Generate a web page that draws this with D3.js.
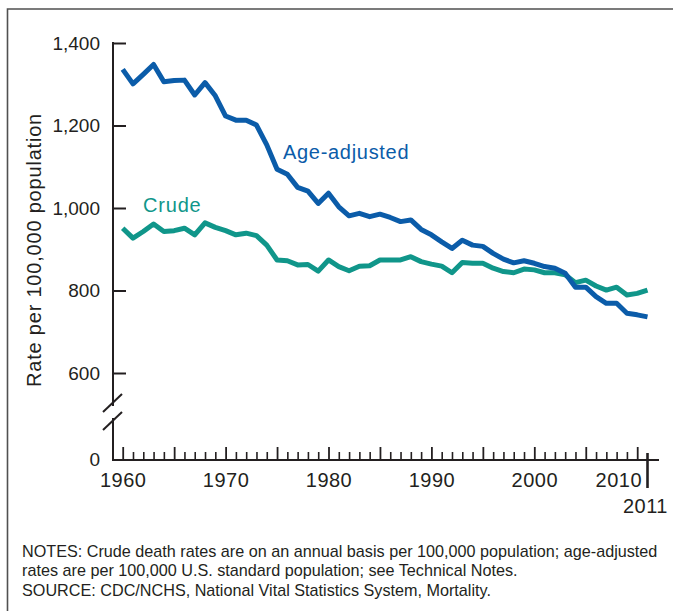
<!DOCTYPE html>
<html>
<head>
<meta charset="utf-8">
<script src="https://cdn.jsdelivr.net/npm/d3@7"></script>
<style>
  body { margin: 0; background: #fff; }
  svg { display: block; font-family: "Liberation Sans", Arial, sans-serif; }
</style>
</head>
<body>
<div id="chart"></div>
<script>
// Data (deaths per 100,000 population)
const years = d3.range(1960, 2012);
const ageAdjusted = [1336, 1301, 1324, 1348, 1306, 1309, 1310, 1274, 1304, 1272,
  1223, 1213, 1213, 1201, 1153, 1094, 1082, 1050, 1041, 1011,
  1036, 1003, 981, 987, 979, 985, 977, 967, 971, 948,
  935, 918, 902, 922, 910, 907, 890, 876, 867, 872,
  866, 858, 854, 842, 808, 808, 785, 769, 769, 745,
  741, 736];
const crude = [951, 927, 943, 961, 943, 945, 951, 935, 964, 953,
  945, 935, 939, 933, 910, 874, 872, 862, 863, 847,
  874, 858, 848, 859, 860, 874, 874, 874, 882, 870,
  864, 859, 843, 868, 866, 866, 854, 846, 843, 852,
  850, 843, 843, 838, 819, 825, 811, 801, 808, 789,
  793, 801];
const yTicks = [600, 800, 1000, 1200, 1400];
const notes = [
  "NOTES: Crude death rates are on an annual basis per 100,000 population; age-adjusted",
  "rates are per 100,000 U.S. standard population; see Technical Notes.",
  "SOURCE: CDC/NCHS, National Vital Statistics System, Mortality."
];

const width = 673, height = 611;
const axisX = 113, baseY = 460;   // y axis position and the zero line
const ink = "#231f20";
const blue = "#0b5ca9", teal = "#10968a";

const svg = d3.select("#chart").append("svg")
  .attr("width", width)
  .attr("height", height);

// frame (only top and left edges show)
svg.append("path")
  .attr("d", `M7.5,${height}V9H${width}`)
  .attr("fill", "none")
  .attr("stroke", "#505050")
  .attr("stroke-width", 1.6);

// Scales
const x = d3.scaleLinear().domain([1960, 2011]).range([122.7, 647.5]);
const y = d3.scaleLinear().domain([600, 1400]).range([373, 43]);

// Y axis: ticks pointing inward, labels on the left
const yAxis = svg.append("g")
  .attr("transform", `translate(${axisX},0)`)
  .call(d3.axisLeft(y).tickValues(yTicks).tickSizeInner(-13).tickSizeOuter(0)
    .tickPadding(13).tickFormat(d3.format(",")));
yAxis.select(".domain").remove();
yAxis.selectAll("line").attr("stroke", ink).attr("stroke-width", 2);
yAxis.selectAll("text").attr("font-size", 19).attr("fill", ink).attr("font-family", null);

// zero tick label
svg.append("text")
  .attr("x", axisX - 13)
  .attr("y", baseY)
  .attr("dy", "0.32em")
  .attr("text-anchor", "end")
  .attr("font-size", 19)
  .attr("fill", ink)
  .text("0");

// y axis line with break
const breakTop = 406, breakBot = 418;
svg.append("path")
  .attr("d", `M${axisX},${y(1400) - 1}V${breakTop}M${axisX},${breakBot}V${baseY}`)
  .attr("stroke", ink)
  .attr("stroke-width", 2);
[breakTop - 3, breakBot + 3].forEach(cy => {
  svg.append("line")
    .attr("x1", axisX - 10).attr("y1", cy + 9)
    .attr("x2", axisX + 9).attr("y2", cy - 9)
    .attr("stroke", ink)
    .attr("stroke-width", 2);
});

// X axis: minor ticks every year, tall ticks every 5 years
const xMinor = svg.append("g")
  .attr("transform", `translate(0,${baseY})`)
  .call(d3.axisBottom(x).tickValues(years.filter(d => d % 5 !== 0 && d < 2011))
    .tickSizeInner(-8).tickSizeOuter(0).tickFormat(""));
xMinor.select(".domain").remove();
xMinor.selectAll("line").attr("stroke", ink).attr("stroke-width", 1.6);

const xMajor = svg.append("g")
  .attr("transform", `translate(0,${baseY})`)
  .call(d3.axisBottom(x).tickValues(years.filter(d => d % 5 === 0))
    .tickSizeInner(-13).tickSizeOuter(0).tickPadding(13)
    .tickFormat(d => d % 10 === 0 ? d : ""));
xMajor.select(".domain").remove();
xMajor.selectAll("line").attr("stroke", ink).attr("stroke-width", 1.8);
xMajor.selectAll("text").attr("font-size", 20).attr("letter-spacing", 0.5)
  .attr("fill", ink).attr("font-family", null);
// 2010 label sits left of the 2011 marker
xMajor.selectAll(".tick").filter(d => d === 2010).select("text")
  .attr("text-anchor", "end")
  .attr("x", x(2011) - x(2010) - 6);

svg.append("line")
  .attr("x1", axisX - 1).attr("x2", 659)
  .attr("y1", baseY).attr("y2", baseY)
  .attr("stroke", ink)
  .attr("stroke-width", 2);

// 2011 end marker
svg.append("line")
  .attr("x1", x(2011)).attr("x2", x(2011))
  .attr("y1", baseY - 7).attr("y2", baseY + 28)
  .attr("stroke", ink)
  .attr("stroke-width", 2.6);
svg.append("text")
  .attr("x", x(2011) - 2)
  .attr("y", 513)
  .attr("text-anchor", "middle")
  .attr("font-size", 20)
  .attr("letter-spacing", 0.5)
  .attr("fill", ink)
  .text("2011");

// Y axis title
svg.append("text")
  .attr("transform", "translate(41,250) rotate(-90)")
  .attr("text-anchor", "middle")
  .attr("font-size", 20)
  .attr("letter-spacing", 0.8)
  .attr("fill", ink)
  .text("Rate per 100,000 population");

// Lines
const line = d3.line()
  .x((d, i) => x(years[i]))
  .y(d => y(d));

svg.append("path")
  .datum(crude)
  .attr("d", line)
  .attr("fill", "none")
  .attr("stroke", teal)
  .attr("stroke-width", 5)
  .attr("stroke-linejoin", "round");

svg.append("path")
  .datum(ageAdjusted)
  .attr("d", line)
  .attr("fill", "none")
  .attr("stroke", blue)
  .attr("stroke-width", 5)
  .attr("stroke-linejoin", "round");

// Series labels
svg.append("text")
  .attr("x", 283).attr("y", 159)
  .attr("font-size", 20)
  .attr("letter-spacing", 0.7)
  .attr("fill", blue)
  .text("Age-adjusted");
svg.append("text")
  .attr("x", 143).attr("y", 212)
  .attr("font-size", 20)
  .attr("letter-spacing", 0.8)
  .attr("fill", teal)
  .text("Crude");

// Notes
svg.append("g")
  .selectAll("text")
  .data(notes)
  .join("text")
  .attr("x", 22)
  .attr("y", (d, i) => 556.5 + i * 19.5)
  .attr("font-size", 16.2)
  .attr("fill", ink)
  .text(d => d);
</script>
</body>
</html>
